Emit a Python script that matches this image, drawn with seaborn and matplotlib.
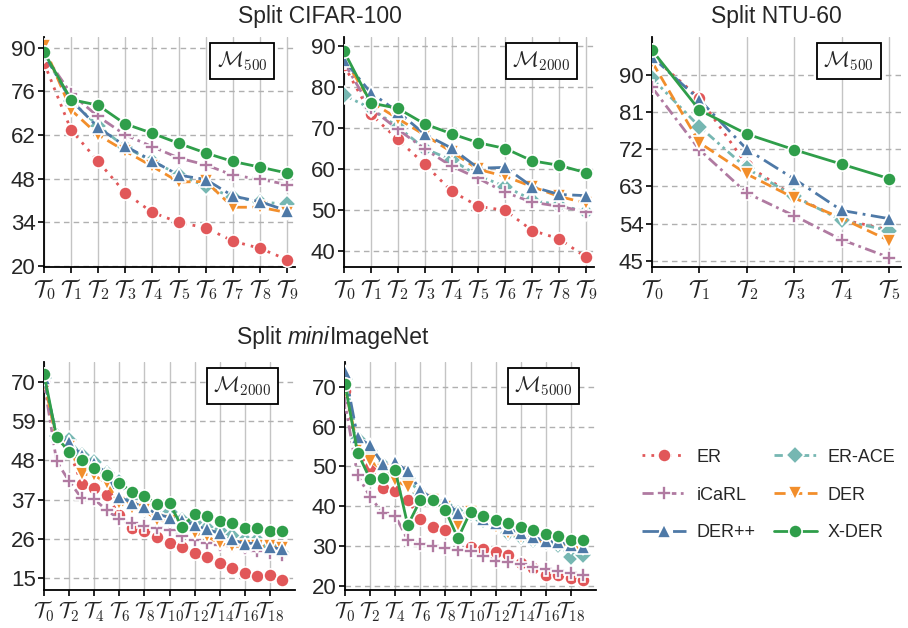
import numpy as np
import pandas as pd
import matplotlib
matplotlib.use("Agg")
import matplotlib.pyplot as plt
import seaborn as sns

methods = ["ER", "ER-ACE", "iCaRL", "DER", "DER++", "X-DER"]

# Split CIFAR-100, M500
cifar500 = {
    "ER":     [85.2, 63.7, 53.6, 43.5, 37.2, 33.9, 32.2, 27.9, 25.6, 22.0],
    "ER-ACE": [88.0, 73.0, 65.0, 58.2, 53.6, 49.3, 45.5, 42.0, 40.6, 39.7],
    "iCaRL":  [88.0, 75.3, 68.0, 62.1, 58.3, 54.6, 52.4, 49.1, 47.8, 46.1],
    "DER":    [90.5, 70.1, 62.1, 56.9, 52.0, 46.9, 47.1, 38.8, 38.8, 37.1],
    "DER++":  [88.0, 73.2, 64.5, 58.5, 53.8, 49.1, 47.7, 42.4, 40.6, 37.7],
    "X-DER":  [88.6, 73.4, 71.6, 65.6, 62.6, 59.3, 56.2, 53.5, 51.7, 49.8],
}
# Split CIFAR-100, M2000
cifar2000 = {
    "ER":     [85.3, 73.4, 67.2, 61.2, 54.6, 50.9, 49.9, 45.0, 43.0, 38.5],
    "ER-ACE": [78.0, 74.8, 70.3, 65.0, 62.2, 58.4, 55.7, 52.5, 51.2, 49.6],
    "iCaRL":  [86.0, 74.8, 69.7, 64.9, 60.7, 57.7, 54.3, 51.9, 50.9, 49.6],
    "DER":    [87.0, 76.4, 72.3, 68.3, 64.2, 59.9, 58.2, 55.7, 53.3, 51.7],
    "DER++":  [86.5, 78.6, 74.0, 68.5, 65.1, 60.2, 60.4, 55.7, 53.8, 53.5],
    "X-DER":  [88.7, 76.1, 74.8, 71.0, 68.6, 66.4, 65.0, 62.0, 60.9, 59.1],
}
# Split NTU-60, M500
ntu500 = {
    "ER":     [94.5, 84.4, 68.2, 60.6, 55.0, 52.5],
    "ER-ACE": [89.2, 77.5, 67.4, 60.6, 54.8, 52.3],
    "iCaRL":  [87.0, 71.9, 61.4, 55.9, 50.1, 45.8],
    "DER":    [93.2, 73.6, 66.0, 60.2, 55.3, 49.9],
    "DER++":  [94.4, 84.0, 72.0, 64.8, 57.2, 55.2],
    "X-DER":  [96.0, 81.5, 75.7, 71.9, 68.4, 64.9],
}
# Split miniImageNet, M2000
mini2000 = {
    "ER":     [70.0, 54.6, 50.9, 41.4, 40.4, 38.3, 32.7, 29.0, 28.3, 26.5,
               24.8, 23.7, 22.0, 20.9, 19.2, 17.8, 16.4, 15.5, 15.9, 14.5],
    "ER-ACE": [71.0, 55.0, 53.7, 49.5, 47.6, 44.4, 42.0, 36.9, 35.5, 33.7,
               33.7, 31.3, 30.4, 29.0, 28.1, 26.7, 25.7, 25.7, 23.9, 22.0],
    "iCaRL":  [70.0, 47.8, 42.2, 37.4, 37.1, 34.1, 31.5, 30.6, 29.6, 29.0,
               28.5, 26.7, 25.7, 25.0, 24.3, 23.9, 23.4, 22.7, 22.0, 21.5],
    "DER":    [70.5, 53.7, 51.8, 44.2, 43.9, 41.6, 36.0, 34.6, 34.1, 31.3,
               30.9, 29.5, 27.6, 26.7, 24.8, 23.9, 24.0, 23.9, 23.9, 23.4],
    "DER++":  [71.0, 55.0, 53.2, 49.5, 47.2, 44.4, 37.7, 36.2, 35.0, 33.0,
               32.0, 31.3, 29.9, 28.7, 27.6, 25.9, 24.6, 25.0, 23.7, 23.1],
    "X-DER":  [72.3, 54.6, 50.4, 48.1, 46.0, 43.9, 41.8, 39.2, 38.1, 35.8,
               36.0, 29.3, 33.0, 32.4, 31.1, 30.6, 29.2, 29.0, 28.1, 28.1],
}
# Split miniImageNet, M5000
mini5000 = {
    "ER":     [69.0, 53.3, 49.9, 44.5, 43.9, 41.5, 36.8, 34.7, 34.0, 31.9,
               29.8, 29.1, 28.5, 27.7, 25.6, 24.4, 22.7, 22.7, 21.8, 21.4],
    "ER-ACE": [72.0, 57.0, 54.0, 50.3, 49.1, 47.0, 43.2, 41.5, 40.3, 38.2,
               38.2, 36.5, 35.2, 33.3, 32.3, 31.5, 31.0, 30.2, 27.3, 27.7],
    "iCaRL":  [66.0, 47.8, 42.4, 38.3, 37.6, 31.5, 30.6, 30.1, 29.4, 29.0,
               28.7, 27.5, 26.3, 25.9, 25.4, 24.8, 24.1, 23.8, 23.1, 22.8],
    "DER":    [70.0, 54.9, 51.4, 49.1, 46.5, 44.9, 42.4, 41.5, 39.8, 35.2,
               38.6, 36.9, 34.8, 33.3, 32.3, 31.5, 31.0, 30.5, 29.8, 29.4],
    "DER++":  [73.8, 57.4, 55.3, 50.7, 51.0, 48.8, 44.0, 41.9, 41.1, 38.3,
               38.6, 36.9, 35.7, 34.4, 33.2, 32.3, 31.2, 31.0, 30.2, 29.6],
    "X-DER":  [70.7, 53.5, 46.8, 47.2, 49.1, 35.2, 41.5, 41.5, 39.0, 31.9,
               38.6, 37.6, 36.5, 35.7, 34.8, 34.0, 33.0, 32.6, 31.6, 31.6],
}

panels = [
    (cifar500, r"$\mathcal{M}_{500}$", [20, 34, 48, 62, 76, 90], (19.6, 93.5), 1, (0, 9.3)),
    (cifar2000, r"$\mathcal{M}_{2000}$", [40, 50, 60, 70, 80, 90], (36.1, 92.2), 1, (0, 9.3)),
    (ntu500, r"$\mathcal{M}_{500}$", [45, 54, 63, 72, 81, 90], (43.5, 99.2), 1, (0, 5.25)),
    (mini2000, r"$\mathcal{M}_{2000}$", [15, 26, 37, 48, 59, 70], (11.7, 75.6), 2, (0, 20.0)),
    (mini5000, r"$\mathcal{M}_{5000}$", [20, 30, 40, 50, 60, 70], (18.9, 76.3), 2, (0, 20.0)),
]

palette = {"ER": "#e15759", "ER-ACE": "#76b7b2", "iCaRL": "#b07aa1",
           "DER": "#f28e2b", "DER++": "#4e79a7", "X-DER": "#2f9e4a"}
markers = {"ER": "o", "ER-ACE": "D", "iCaRL": "P", "DER": "v", "DER++": "^", "X-DER": "o"}
dashes = {"ER": (1, 2.2), "ER-ACE": (3, 1.5, 1, 1.5, 1, 1.5), "iCaRL": (4, 1.6, 1, 1.6),
          "DER": (4, 2), "DER++": (6, 2, 1, 2), "X-DER": ""}

sns.set_style("ticks")
plt.rcParams["font.family"] = ["Liberation Sans", "DejaVu Sans"]
plt.rcParams["mathtext.fontset"] = "cm"

fig = plt.figure(figsize=(9.08, 6.28), dpi=100)
W, H = 908.0, 628.0
boxes = [(44, 37, 295, 267), (344, 37, 594, 267), (652, 37, 901, 267),
         (44, 362, 295, 590), (345, 362, 596, 590)]

handles = labels = None
for i, ((data, mlabel, yt, ylim, step, xlim), (x0, y0, x1, y1)) in enumerate(zip(panels, boxes)):
    ax = fig.add_axes([x0 / W, 1 - y1 / H, (x1 - x0) / W, (y1 - y0) / H])
    n = len(data["ER"])
    rows = []
    for m in methods:
        for t, v in enumerate(data[m]):
            rows.append({"task": t, "acc": v, "method": m})
    df = pd.DataFrame(rows)
    sns.lineplot(data=df, x="task", y="acc", hue="method", style="method",
                 hue_order=methods, style_order=methods, palette=palette,
                 markers=markers, dashes=dashes, linewidth=2, markersize=9.5,
                 markeredgecolor="white", markeredgewidth=1.2, ax=ax,
                 legend=(i == 0), zorder=3)
    if i == 0:
        handles, labels = ax.get_legend_handles_labels()
        ax.get_legend().remove()
    ax.set_xlim(*xlim)
    ax.set_ylim(*ylim)
    ax.set_yticks(yt)
    xt = list(range(0, n, step))
    ax.set_xticks(xt)
    ax.set_xticklabels([r"$\mathcal{T}_{%d}$" % t for t in xt],
                       fontsize=16.5 if n <= 10 else 15.5)
    ax.tick_params(axis="y", labelsize=16, length=4, width=1.2, color="black", pad=2)
    ax.tick_params(axis="x", length=4, width=1.2, color="black", pad=3)
    ax.set_xlabel("")
    ax.set_ylabel("")
    ax.grid(axis="x", color="#c4c4c4", linestyle="-", linewidth=1.0, zorder=0)
    ax.grid(axis="y", color="#b0b0b0", linestyle=(0, (4, 3)), linewidth=1.0, zorder=0)
    ax.set_axisbelow(True)
    sns.despine(ax=ax)
    for s in ("left", "bottom"):
        ax.spines[s].set_linewidth(1.3)
        ax.spines[s].set_color("black")
    ax.text(0.79, 0.895, mlabel, transform=ax.transAxes, ha="center", va="center",
            fontsize=15.5, zorder=10,
            bbox=dict(boxstyle="square,pad=0.3", facecolor="white", edgecolor="black",
                      linewidth=1.3))

# titles
fig.text(320 / W, 1 - 16 / H, "Split CIFAR-100", ha="center", va="center", fontsize=16.5)
fig.text(776 / W, 1 - 16 / H, "Split NTU-60", ha="center", va="center", fontsize=16.5)
t1 = fig.text(237 / W, 1 - 337 / H, "Split ", ha="left", va="center", fontsize=16.5)
ann2 = plt.annotate("mini", xy=(1, 0), xycoords=t1, va="bottom", ha="left",
                    fontsize=16.5, style="italic", annotation_clip=False)
ann3 = plt.annotate("ImageNet", xy=(1, 0), xycoords=ann2, va="bottom", ha="left",
                    fontsize=16.5, annotation_clip=False)

order = ["ER", "iCaRL", "DER++", "ER-ACE", "DER", "X-DER"]
hmap = dict(zip(labels, handles))
fig.legend([hmap[k] for k in order], order, ncol=2, frameon=False,
           loc="center", bbox_to_anchor=(769 / W, 1 - 495 / H), fontsize=13,
           handlelength=2.4, columnspacing=1.0, labelspacing=1.15, handletextpad=0.6)

fig.savefig("out.png", dpi=100)
